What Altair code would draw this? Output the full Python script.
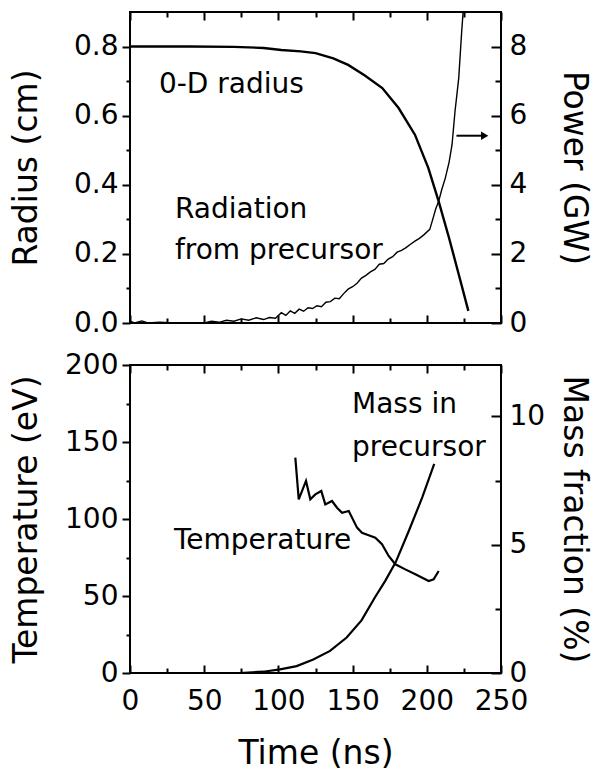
import altair as alt
import pandas as pd

# ---------------- data ----------------
rad_t = [0, 40, 70, 90, 102, 115, 125, 137, 147, 158, 170, 181, 192, 201, 208, 215, 221.5, 228]
rad_r = [0.800, 0.800, 0.799, 0.796, 0.790, 0.786, 0.781, 0.766, 0.747, 0.717, 0.680, 0.622,
         0.545, 0.449, 0.352, 0.246, 0.141, 0.035]

pow_t = [0, 3, 8, 12, 20, 30, 40, 50, 55, 60, 65, 70, 75, 80, 85, 90, 94, 98, 102, 105, 108, 111,
         114, 117, 120, 123, 126, 129, 132, 135, 138, 141, 144, 147, 150, 153, 156, 159, 162, 165,
         168, 171, 174, 177, 180, 183, 186, 189, 192, 195, 198, 202, 204, 206, 208, 210, 212.5,
         215, 217, 219, 221.5, 223.5, 225, 226]
pow_p = [0.05, 0.0, 0.06, 0.0, 0.02, 0.0, 0.01, 0.0, 0.05, 0.02, 0.08, 0.05, 0.12, 0.08, 0.15,
         0.10, 0.16, 0.14, 0.30, 0.22, 0.35, 0.28, 0.40, 0.34, 0.44, 0.42, 0.50, 0.47, 0.60, 0.62,
         0.72, 0.70, 0.85, 0.98, 1.05, 1.15, 1.30, 1.38, 1.48, 1.55, 1.70, 1.72, 1.85, 1.92, 2.05,
         2.10, 2.18, 2.28, 2.37, 2.45, 2.55, 2.71, 3.00, 3.30, 3.52, 3.85, 4.20, 4.65, 5.16, 6.12,
         7.08, 8.43, 9.30, 10.0]

temp_t = [111.4, 113.7, 118.6, 121.5, 124.9, 128.9, 131.6, 136.1, 139.5, 142.9, 147.4, 153.0,
          156.3, 160.8, 165.3, 169.8, 174.3, 178.8, 185.5, 192.3, 201.3, 204.6, 208.0]
temp_T = [139.8, 112.8, 124.7, 112.8, 116.0, 118.2, 109.5, 111.7, 107.3, 104.0, 105.2, 94.4,
          91.1, 89.5, 87.9, 83.6, 76.0, 70.6, 67.3, 64.1, 59.7, 60.8, 66.2]

mass_t = [65, 74, 89.8, 101.1, 112.3, 123.5, 134.8, 146, 156, 165, 172, 179, 188, 197, 205]
mass_m = [0, 0, 0.05, 0.14, 0.27, 0.53, 0.86, 1.38, 2.05, 2.94, 3.59, 4.31, 5.55, 6.85, 8.15]

top_labels = ["0-D radius", "Radiation", "from precursor"]
top_label_t = [19.5, 30.3, 30.3]
top_label_r = [0.665, 0.303, 0.185]

bot_labels = ["Mass in", "precursor", "Temperature"]
bot_label_t = [149.6, 149.6, 29.6]
bot_label_T = [169.0, 140.9, 80.5]

arrow_t0 = [220.0]
arrow_t1 = [239.0]
arrow_p = [5.42]

x_major = [0, 50, 100, 150, 200, 250]
x_minor = [25, 75, 125, 175, 225]
radius_major = [0.0, 0.2, 0.4, 0.6, 0.8]
radius_minor = [0.1, 0.3, 0.5, 0.7]
power_major = [0, 2, 4, 6, 8]
power_minor = [1, 3, 5, 7]
temp_major = [0, 50, 100, 150, 200]
temp_minor = [25, 75, 125, 175]
mass_major = [0, 5, 10]
mass_minor = [2.5, 7.5]

# ---------------- styling ----------------
FONT = "DejaVu Sans"
LAB = 28
TIT = 33
W = 371
TW = 2

R_DOM = [0, 0.9]
P_DOM = [0, 9]
T_DOM = [0, 200]
M_DOM = [0, 12]


def xs():
    return alt.Scale(domain=[0, 250], nice=False, zero=False)


def ys(dom):
    return alt.Scale(domain=dom, nice=False, zero=False)


def tick_axis(values, orient, size, offset=0):
    # ticks only (inward when offset = -size)
    return alt.Axis(values=values, orient=orient, offset=offset, tickSize=size, ticks=True,
                    domain=False, grid=False, labels=False, title=None,
                    tickWidth=TW, tickColor="black", tickOpacity=1)


def x_bottom_labeled():
    return alt.Axis(
        values=x_major, orient="bottom", offset=-8, tickSize=8, ticks=True, domain=False,
        grid=False, tickWidth=TW, tickColor="black", tickOpacity=1,
        labelPadding=14, labelFontSize=LAB, labelFlush=False, labelOverlap=False,
        title="Time (ns)", titleFontSize=TIT, titleFontWeight="normal",
        titlePadding=17, minExtent=55, maxExtent=55,
    )


def left_axis(values, title, fmt):
    return alt.Axis(
        values=values, orient="left", domain=False, grid=False, tickWidth=TW, ticks=True,
        tickColor="black", tickOpacity=1, tickSize=8, format=fmt,
        labelPadding=4, labelFontSize=LAB, labelOverlap=False,
        title=title, titleFontSize=TIT, titleFontWeight="normal", titlePadding=17,
        minExtent=70, maxExtent=70,
    )


def right_axis(values, title):
    return alt.Axis(
        values=values, orient="right", offset=-10, tickSize=10, ticks=True, domain=False,
        grid=False, tickWidth=TW, tickColor="black", tickOpacity=1,
        labelPadding=8, labelFontSize=LAB, labelOverlap=False,
        title=title, titleFontSize=TIT, titleFontWeight="normal", titlePadding=5,
        minExtent=60, maxExtent=60,
    )


def carrier(df, ycol, dom, x_axis, y_axis):
    # invisible, clipped layer that only carries the minor-tick axes
    return alt.Chart(df).mark_point(opacity=0, size=1, clip=True).encode(
        x=alt.X("t:Q", scale=xs(), axis=x_axis),
        y=alt.Y(f"{ycol}:Q", scale=ys(dom), axis=y_axis),
    )


# ---------------- top panel ----------------
df_rad = pd.DataFrame({"t": rad_t, "r": rad_r})
df_pow = pd.DataFrame({"t": pow_t, "p": pow_p})
df_top_lab = pd.DataFrame({"t": top_label_t, "r": top_label_r, "txt": top_labels})
df_arrow = pd.DataFrame({"t0": arrow_t0, "t1": arrow_t1, "p": arrow_p})

radius_line = alt.Chart(df_rad).mark_line(color="black", strokeWidth=2.4).encode(
    x=alt.X("t:Q", scale=xs(), axis=tick_axis(x_major, "bottom", 8, -8)),
    y=alt.Y("r:Q", scale=ys(R_DOM), axis=left_axis(radius_major, "Radius (cm)", ".1f")),
)
radius_minor_axes = carrier(df_rad, "r", R_DOM,
                            tick_axis(x_minor, "bottom", 5, -5),
                            tick_axis(radius_minor, "left", 4))
top_text = alt.Chart(df_top_lab).mark_text(
    align="left", baseline="alphabetic", font=FONT, fontSize=LAB, color="black"
).encode(
    x=alt.X("t:Q", scale=xs(), axis=None),
    y=alt.Y("r:Q", scale=ys(R_DOM), axis=None),
    text="txt:N",
)
power_line = alt.Chart(df_pow).mark_line(color="black", strokeWidth=1.4, clip=True).encode(
    x=alt.X("t:Q", scale=xs(), axis=tick_axis(x_major, "top", 8, -8)),
    y=alt.Y("p:Q", scale=ys(P_DOM), axis=right_axis(power_major, "Power (GW)")),
)
power_minor_axes = carrier(df_pow, "p", P_DOM,
                           tick_axis(x_minor, "top", 5, -5),
                           tick_axis(power_minor, "right", 6, -6))
arrow_shaft = alt.Chart(df_arrow).mark_rule(color="black", strokeWidth=2).encode(
    x=alt.X("t0:Q", scale=xs(), axis=None),
    x2="t1:Q",
    y=alt.Y("p:Q", scale=ys(P_DOM), axis=None),
)
arrow_head = alt.Chart(df_arrow).mark_point(
    shape="triangle-right", filled=True, color="black", size=70, opacity=1
).encode(
    x=alt.X("t1:Q", scale=xs(), axis=None),
    y=alt.Y("p:Q", scale=ys(P_DOM), axis=None),
)

top = alt.layer(
    radius_line, radius_minor_axes, top_text, power_line, power_minor_axes,
    arrow_shaft, arrow_head,
).resolve_scale(y="independent").resolve_axis(x="independent", y="independent").properties(
    width=W, height=311
)

# ---------------- bottom panel ----------------
df_temp = pd.DataFrame({"t": temp_t, "T": temp_T})
df_mass = pd.DataFrame({"t": mass_t, "m": mass_m})
df_bot_lab = pd.DataFrame({"t": bot_label_t, "T": bot_label_T, "txt": bot_labels})

temp_line = alt.Chart(df_temp).mark_line(color="black", strokeWidth=2.2).encode(
    x=alt.X("t:Q", scale=xs(), axis=x_bottom_labeled()),
    y=alt.Y("T:Q", scale=ys(T_DOM), axis=left_axis(temp_major, "Temperature (eV)", "d")),
)
temp_minor_axes = carrier(df_temp, "T", T_DOM,
                          tick_axis(x_minor, "bottom", 5, -5),
                          tick_axis(temp_minor, "left", 4))
bot_text = alt.Chart(df_bot_lab).mark_text(
    align="left", baseline="alphabetic", font=FONT, fontSize=LAB, color="black"
).encode(
    x=alt.X("t:Q", scale=xs(), axis=None),
    y=alt.Y("T:Q", scale=ys(T_DOM), axis=None),
    text="txt:N",
)
mass_line = alt.Chart(df_mass).mark_line(color="black", strokeWidth=2.2).encode(
    x=alt.X("t:Q", scale=xs(), axis=tick_axis(x_major, "top", 8, -8)),
    y=alt.Y("m:Q", scale=ys(M_DOM), axis=right_axis(mass_major, "Mass fraction (%)")),
)
mass_minor_axes = carrier(df_mass, "m", M_DOM,
                          tick_axis(x_minor, "top", 5, -5),
                          tick_axis(mass_minor, "right", 6, -6))

bottom = alt.layer(
    temp_line, temp_minor_axes, bot_text, mass_line, mass_minor_axes,
).resolve_scale(y="independent").resolve_axis(x="independent", y="independent").properties(
    width=W, height=308
)

chart = alt.vconcat(top, bottom, spacing=42, bounds="flush").properties(
    padding={"left": 8, "top": 10, "right": 4, "bottom": 0},
    background="white",
).configure(
    font=FONT,
).configure_view(
    stroke="black", strokeWidth=2,
).configure_axis(
    labelFont=FONT, titleFont=FONT, labelColor="black", titleColor="black",
    tickColor="black", ticks=True,
)

chart.save("out.html", embed_options={"renderer": "svg", "actions": False})
